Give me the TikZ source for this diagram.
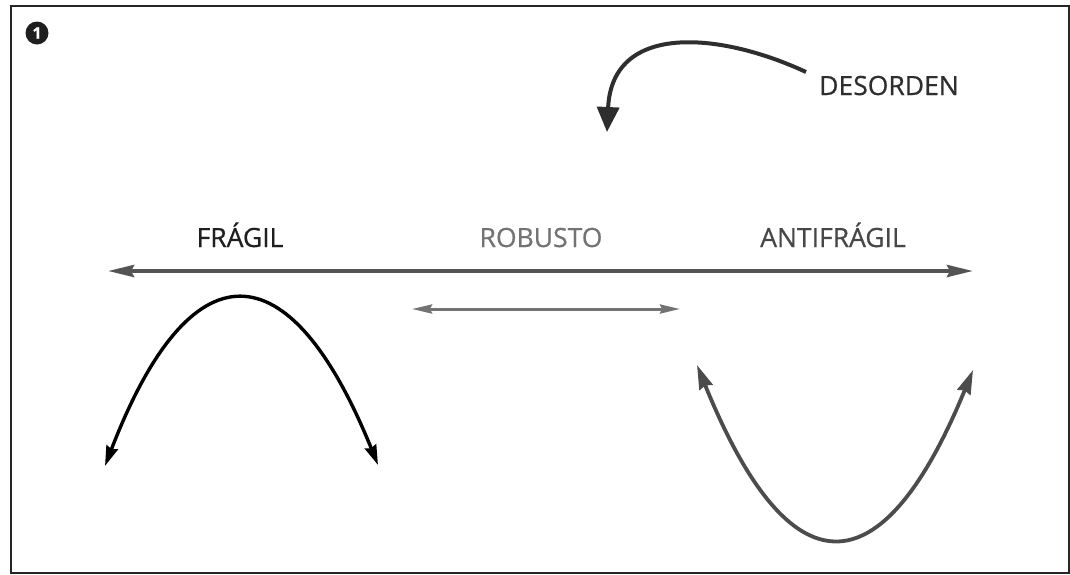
\documentclass[tikz,border=0pt]{standalone}
\usepackage{fontspec}
\setmainfont{Open Sans}[FakeBold=0.6]
\usetikzlibrary{arrows.meta}
\begin{document}
\begin{tikzpicture}[x=1pt,y=-1pt,
  label text/.style={inner sep=0pt,anchor=base,font=\fontsize{26.5}{30}\selectfont},
  axis arrow/.style={draw=black!67,line width=4pt,
    {Stealth[length=26pt,width=12pt,inset=3pt]}-{Stealth[length=26pt,width=12pt,inset=3pt]}},
  short arrow/.style={draw=black!55,line width=3pt,
    {Stealth[length=20pt,width=9pt,inset=2pt]}-{Stealth[length=20pt,width=9pt,inset=2pt]}},
  fragile arc/.style={draw=black,line width=3.4pt,
    {Stealth[length=20pt,width=12pt,inset=2pt]}-{Stealth[length=20pt,width=12pt,inset=2pt]}},
  antifragile arc/.style={draw=black!70,line width=3.8pt,
    {Stealth[length=24pt,width=14pt,inset=2pt]}-{Stealth[length=24pt,width=14pt,inset=2pt]}},
  disorder arrow/.style={draw=black!82,line width=4pt,-{Triangle[length=25pt,width=22pt]}}]
  \useasboundingbox (0,0) rectangle (1070,574);
  % frame
  \draw[black!85,line width=1.6pt] (11,6) rectangle (1069,573);
  % panel number
  \node[circle,fill=black!88,minimum size=23pt,inner sep=0pt,text=white,
        font=\fontsize{16}{16}\selectfont\bfseries] (num) at (37,33) {1};
  % labels
  \node[label text,text=black!88] (fragil) at (240,247) {FRÁGIL};
  \node[label text,text=black!55] (robusto) at (541,247) {ROBUSTO};
  \node[label text,text=black!72] (antifragil) at (833,247) {ANTIFRÁGIL};
  \node[label text,text=black!82] (desorden) at (889,95) {DESORDEN};
  % arrow end points
  \coordinate (axisL) at (108,271);
  \coordinate (axisR) at (973,271);
  \coordinate (robL) at (412,309);
  \coordinate (robR) at (680,309);
  \coordinate (fragL) at (105,466);
  \coordinate (fragR) at (378,465);
  \coordinate (antiL) at (697,365);
  \coordinate (antiR) at (973,370);
  \coordinate (disStart) at (806,72);
  \coordinate (disEnd) at (607,132);
  % arrows
  \draw[axis arrow] (axisL) -- (axisR);
  \draw[short arrow] (robL) -- (robR);
  \draw[fragile arc] (fragL) .. controls (190,245) and (289,245) .. (fragR);
  \draw[antifragile arc] (antiL) .. controls (789,592) and (881,594) .. (antiR);
  \draw[disorder arrow] (disStart) .. controls (720,32) and (612,22) .. (disEnd);
\end{tikzpicture}
\end{document}
